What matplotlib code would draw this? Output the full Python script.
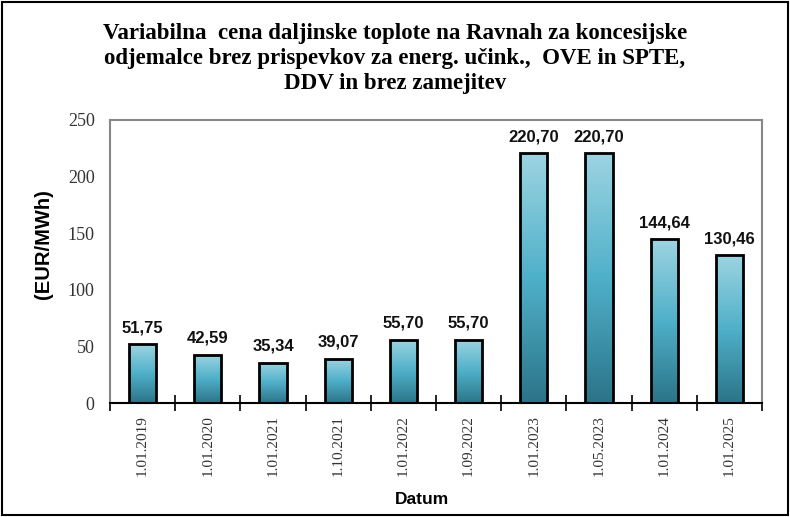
import numpy as np
import matplotlib
matplotlib.use("Agg")
import matplotlib.pyplot as plt
from matplotlib.colors import LinearSegmentedColormap

dates = ['1.01.2019', '1.01.2020', '1.01.2021', '1.10.2021', '1.01.2022',
         '1.09.2022', '1.01.2023', '1.05.2023', '1.01.2024', '1.01.2025']
prices = [51.75, 42.59, 35.34, 39.07, 55.70, 55.70, 220.70, 220.70, 144.64, 130.46]

title = ("Variabilna  cena daljinske toplote na Ravnah za koncesijske\n"
         "odjemalce brez prispevkov za energ. učink.,  OVE in SPTE,\n"
         "DDV in brez zamejitev")

fig = plt.figure(figsize=(7.9, 5.17), dpi=100)
ax = fig.add_axes([110/790, 1 - 403/517, 652/790, 283/517])

x = np.arange(len(prices))
bars = ax.bar(x, prices, width=0.42, color='none', edgecolor='black', linewidth=2, zorder=3)

# gradient fill, light on top, dark at the bottom
cmap = LinearSegmentedColormap.from_list('teal', ['#2b7488', '#4fb0c9', '#9dd4e2'])
grad = np.linspace(0, 1, 256).reshape(-1, 1)
for b in bars:
    x0, y0 = b.get_x(), b.get_y()
    im = ax.imshow(grad, cmap=cmap, origin='lower', aspect='auto',
                   extent=[x0, x0 + b.get_width(), y0, y0 + b.get_height()], zorder=2)
    im.set_clip_path(b)

for xi, v in zip(x, prices):
    ax.text(xi, v + 8, f"{v:.2f}".replace('.', ','), ha='center', va='bottom',
            fontsize=12, fontweight='bold', family='Liberation Sans', color='#111111')

ax.set_xlim(-0.5, len(prices) - 0.5)
ax.set_ylim(0, 250)
ax.set_yticks([0, 50, 100, 150, 200, 250])
ax.set_xticks(x)
ax.set_xticklabels(dates, rotation=90, family='Liberation Serif', fontsize=11, color='#333333')
ax.set_xticks(np.arange(-0.5, len(prices), 1), minor=True)
ax.tick_params(axis='x', which='major', length=0, pad=9)
ax.tick_params(axis='x', which='minor', direction='inout', length=11, width=1.2, color='black')
ax.tick_params(axis='y', length=0, pad=11, labelsize=13, labelcolor='#333333')
for lab in ax.get_yticklabels():
    lab.set_family('Liberation Serif')

for s in ['top', 'right', 'left']:
    ax.spines[s].set_color('#888888')
    ax.spines[s].set_linewidth(1.5)
ax.spines['bottom'].set_color('black')
ax.spines['bottom'].set_linewidth(1.5)

fig.text(0.5, 1 - 58/517, title, ha='center', va='center',
         fontsize=16.5, fontweight='bold', family='Liberation Serif', linespacing=1.25)
fig.text(43/790, 1 - 244/517, '(EUR/MWh)', rotation=90, ha='center', va='center',
         fontsize=14.5, fontweight='bold', family='Liberation Sans')
fig.text(422/790, 1 - 500/517, 'Datum', ha='center', va='center',
         fontsize=12.5, fontweight='bold', family='Liberation Sans')

# outer frame of the picture
fig.patches.append(plt.Rectangle((0.002, 0.003), 0.996, 0.994, transform=fig.transFigure,
                                 fill=False, edgecolor='black', linewidth=1.5))

fig.savefig('out.png', dpi=100)
